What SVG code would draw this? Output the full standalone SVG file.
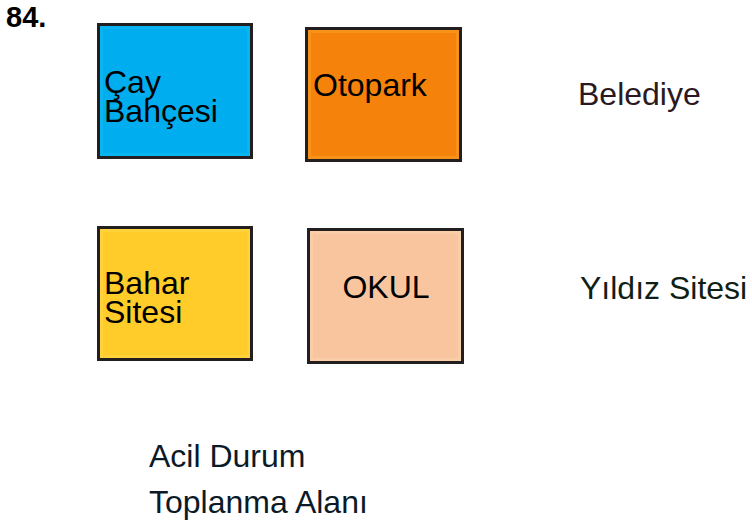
<svg xmlns="http://www.w3.org/2000/svg" width="752" height="526" viewBox="0 0 752 526">
<style>
text{font-family:"Liberation Sans",Arial,sans-serif;font-size:32px;fill:#000}
.box{stroke:#231F20;stroke-width:3}
.inner{fill:none;stroke-width:3}
</style>
<rect width="752" height="526" fill="#fff"/>
<text x="6" y="27" style="font-weight:bold;font-size:29px" fill="#231F20">84.</text>
<g id="cay">
<rect class="box" x="98.5" y="24.5" width="153" height="133" fill="#00AEEF"/>
<rect class="inner" x="101.5" y="27.5" width="147" height="127" stroke="#0AB4F0"/>
<text x="104" y="93">Çay</text>
<text x="104" y="122">Bahçesi</text>
</g>
<g id="otopark">
<rect class="box" x="306.5" y="28.5" width="154" height="132" fill="#F5820A"/>
<rect class="inner" x="309.5" y="31.5" width="148" height="126" stroke="#F8931A"/>
<text x="313" y="96">Otopark</text>
</g>
<g id="bahar">
<rect class="box" x="98.5" y="227.5" width="153" height="132" fill="#FFCC29"/>
<rect class="inner" x="101.5" y="230.5" width="147" height="126" stroke="#FFD23A"/>
<text x="104" y="294">Bahar</text>
<text x="104" y="323">Sitesi</text>
</g>
<g id="okul">
<rect class="box" x="308.5" y="229.5" width="154" height="133" fill="#F9C59F"/>
<rect class="inner" x="311.5" y="232.5" width="148" height="127" stroke="#FACDA9"/>
<text x="386" y="298" text-anchor="middle">OKUL</text>
</g>
<g id="belediye">
<text x="578" y="105" style="fill:#2B1820">Belediye</text>
</g>
<g id="yildiz">
<text x="580" y="299" style="fill:#0F1F16">Yıldız Sitesi</text>
</g>
<g id="acil">
<text x="149" y="467" style="fill:#0B1A26">Acil Durum</text>
<text x="149" y="513" style="fill:#0B1A26">Toplanma Alanı</text>
</g>
<g id="connectors"></g>
</svg>
